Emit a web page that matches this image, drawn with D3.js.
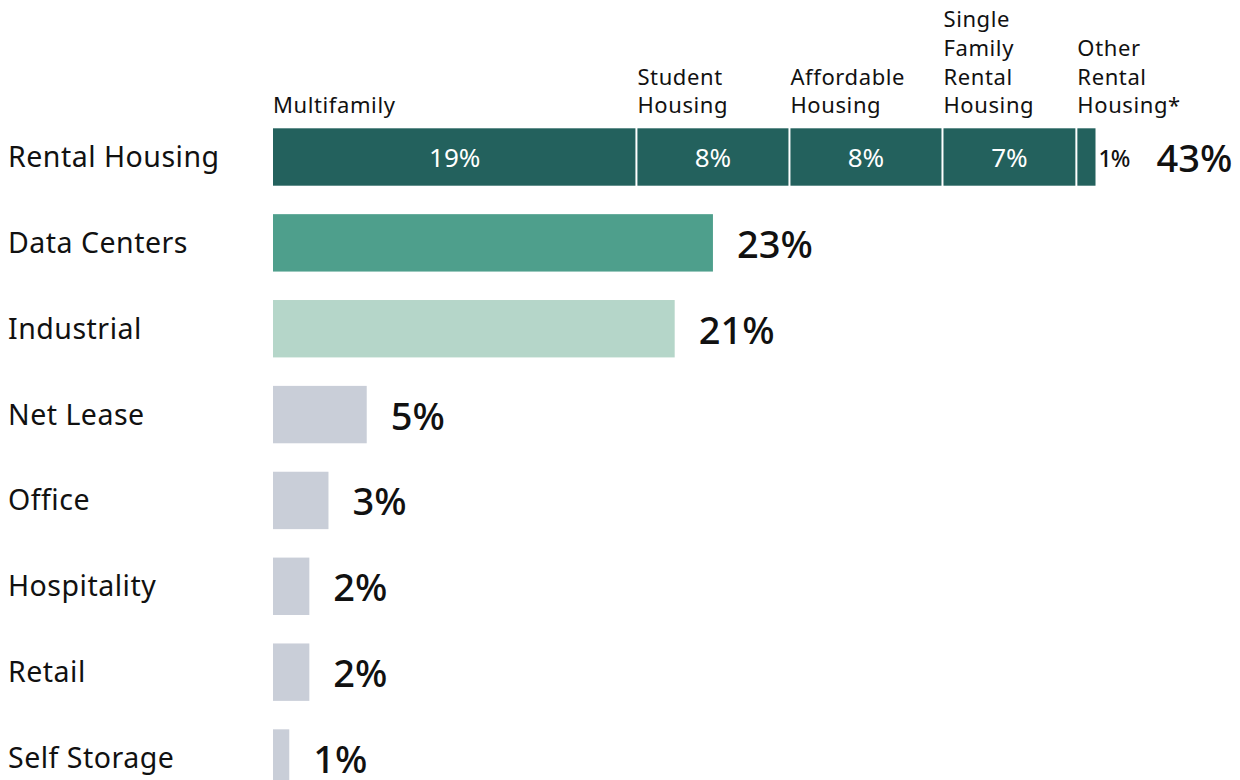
<!DOCTYPE html>
<html>
<head>
<meta charset="utf-8">
<script src="https://cdn.jsdelivr.net/npm/d3@7"></script>
<style>
  html, body { margin: 0; padding: 0; background: #fff; }
  svg { display: block; font-family: "Noto Sans", "Open Sans", sans-serif; }
</style>
</head>
<body>
<svg id="chart" width="1240" height="780"></svg>
<script>
// Share of allocation by property sector (%)
const categories = ["Rental Housing", "Data Centers", "Industrial", "Net Lease", "Office", "Hospitality", "Retail", "Self Storage"];
const sectorValues = [43, 23, 21, 4.9, 2.9, 1.9, 1.9, 0.85];
const sectorColors = ["#23615d", "#4e9f8c", "#b5d6c9", "#c9ced8", "#c9ced8", "#c9ced8", "#c9ced8", "#c9ced8"];

// Breakdown of the rental housing bar
const rentalSegments = [
  ["Multifamily"],
  ["Student", "Housing"],
  ["Affordable", "Housing"],
  ["Single", "Family", "Rental", "Housing"],
  ["Other", "Rental", "Housing*"]
];
const rentalValues = [19, 8, 8, 7, 1];

const svg = d3.select("#chart");

const step = 85.86;
const x = d3.scaleLinear().domain([0, 43]).range([273, 1095.5]);
const y = d3.scaleBand()
  .domain(categories)
  .range([114.07, 114.07 + step * categories.length])
  .paddingInner(0.3315)
  .paddingOuter(0.3315 / 2);

const fmt = v => Math.round(v) + "%";

// Category labels
svg.append("g").selectAll("text")
  .data(categories)
  .join("text")
  .attr("x", 8)
  .attr("y", d => y(d) + y.bandwidth() / 2 + 10)
  .attr("font-size", 28.5)
  .attr("letter-spacing", 0.5)
  .attr("fill", "#111")
  .text(d => d);

// Single-value bars (all rows except the stacked one)
const rows = categories.map((c, i) => ({ cat: c, value: sectorValues[i], color: sectorColors[i] }));
const simple = rows.slice(1);

svg.append("g").selectAll("rect")
  .data(simple)
  .join("rect")
  .attr("x", x(0))
  .attr("y", d => y(d.cat))
  .attr("width", d => x(d.value) - x(0))
  .attr("height", y.bandwidth())
  .attr("fill", d => d.color);

// Value labels right of each bar
svg.append("g").selectAll("text")
  .data(rows)
  .join("text")
  .attr("x", d => x(d.value) + (d.cat === "Rental Housing" ? 61 : 24))
  .attr("y", d => y(d.cat) + y.bandwidth() / 2 + 15)
  .attr("font-size", 38)
  .attr("font-weight", 500)
  .attr("fill", "#111")
  .text(d => fmt(d.value));

// Stacked rental housing bar
let acc = 0;
const segs = rentalValues.map((v, i) => {
  const s = { start: acc, end: acc + v, value: v, lines: rentalSegments[i], i };
  acc += v;
  return s;
});
const last = segs.length - 1;
const gap = 1;
const yR = y("Rental Housing");

const gR = svg.append("g");
gR.selectAll("rect")
  .data(segs)
  .join("rect")
  .attr("x", d => x(d.start) + (d.i > 0 ? gap : 0))
  .attr("y", yR)
  .attr("width", d => x(d.end) - x(d.start) - (d.i > 0 ? gap : 0) - (d.i < last ? gap : 0))
  .attr("height", y.bandwidth())
  .attr("fill", sectorColors[0]);

// Segment values inside the bar (the thin last one is labelled outside)
gR.selectAll("text.inner")
  .data(segs.filter(d => d.i < last))
  .join("text")
  .attr("class", "inner")
  .attr("x", d => (x(d.start) + x(d.end)) / 2)
  .attr("y", yR + y.bandwidth() / 2 + 10)
  .attr("text-anchor", "middle")
  .attr("font-size", 26)
  .attr("fill", "#fff")
  .text(d => fmt(d.value));

gR.selectAll("text.outer")
  .data(segs.filter(d => d.i === last))
  .join("text")
  .attr("class", "outer")
  .attr("x", d => x(d.end) + 3)
  .attr("y", yR + y.bandwidth() / 2 + 10)
  .attr("font-size", 23)
  .attr("font-weight", 500)
  .attr("letter-spacing", -1)
  .attr("fill", "#111")
  .text(d => fmt(d.value));

// Segment headers above the bar, bottom-aligned
const lineH = 28.7;
const headers = gR.selectAll("text.head")
  .data(segs)
  .join("text")
  .attr("class", "head")
  .attr("font-size", 22)
  .attr("letter-spacing", 0.6)
  .attr("fill", "#111");
headers.each(function (d) {
  const t = d3.select(this);
  const n = d.lines.length;
  d.lines.forEach((ln, k) => {
    t.append("tspan")
      .attr("x", x(d.start) + (d.i > 0 ? gap : 0))
      .attr("y", yR - 15 - (n - 1 - k) * lineH)
      .text(ln);
  });
});
</script>
</body>
</html>
